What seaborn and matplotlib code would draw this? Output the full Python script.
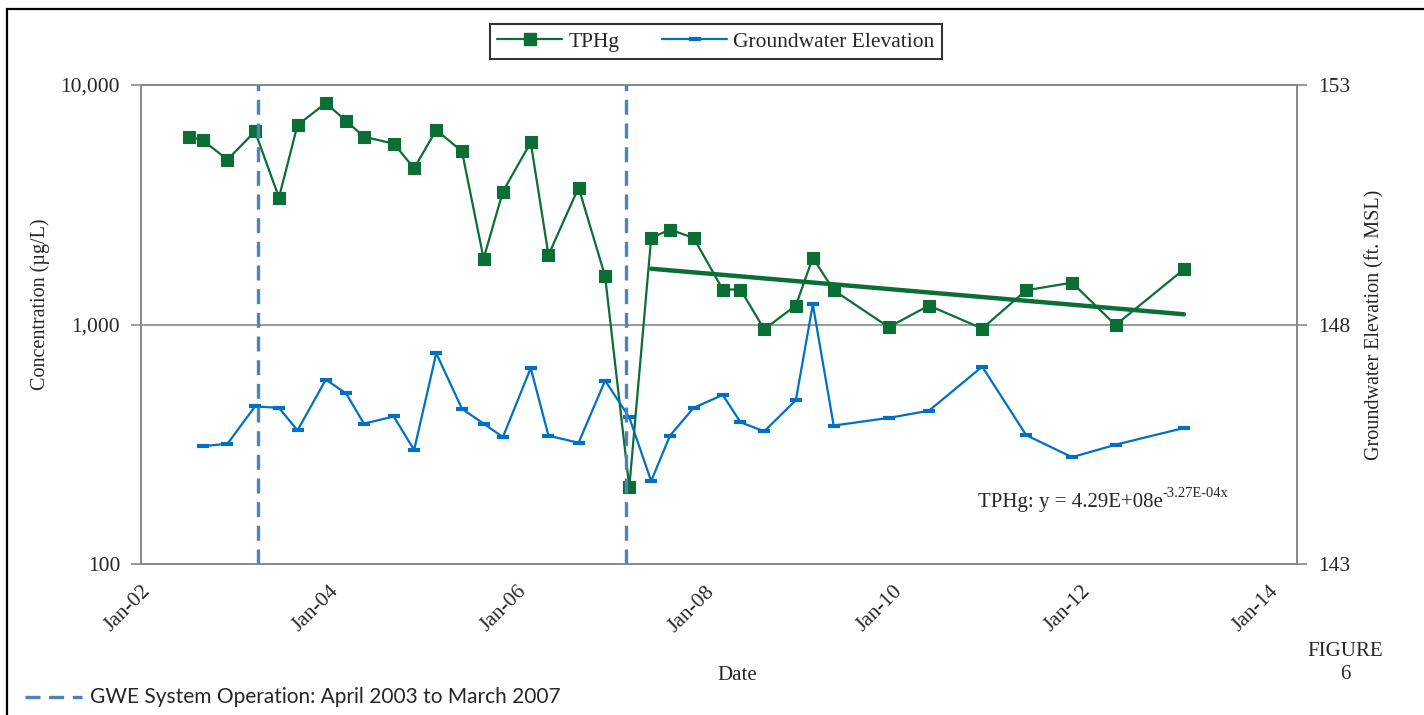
import numpy as np
import pandas as pd
import matplotlib
matplotlib.use("Agg")
import matplotlib.pyplot as plt
import matplotlib.dates as mdates
import matplotlib.ticker as mticker
from matplotlib.lines import Line2D
from matplotlib.patches import Rectangle
import seaborn as sns

# sample dates
dates = ["2002-07-08", "2002-08-28", "2002-12-03", "2003-03-20", "2003-06-21",
         "2003-09-01", "2003-12-20", "2004-03-08", "2004-05-16", "2004-09-09",
         "2004-11-27", "2005-02-21", "2005-06-01", "2005-08-24", "2005-11-07",
         "2006-02-23", "2006-05-03", "2006-08-28", "2006-12-09", "2007-03-13",
         "2007-06-06", "2007-08-18", "2007-11-18", "2008-03-10", "2008-05-18",
         "2008-08-18", "2008-12-19", "2009-02-23", "2009-05-15", "2009-12-15",
         "2010-05-20", "2010-12-13", "2011-06-02", "2011-11-27", "2012-05-14",
         "2013-02-04"]

# TPHg concentration (ug/L)
tphg = [6080, 5890, 4880, 6400, 3390, 6800, 8400, 7080, 6080, 5690,
        4490, 6490, 5280, 1885, 3590, 5760, 1950, 3730, 1590, 209,
        2300, 2490, 2300, 1400, 1400, 955, 1200, 1900, 1390, 975,
        1200, 962, 1390, 1495, 995, 1700]

# groundwater elevation (ft MSL), no reading on the first date
gwe = [np.nan, 145.46, 145.51, 146.29, 146.26, 145.79, 146.85, 146.56, 145.93,
       146.08, 145.38, 147.40, 146.24, 145.93, 145.65, 147.09, 145.68, 145.53,
       146.83, 146.06, 144.73, 145.68, 146.26, 146.53, 145.96, 145.77, 146.42,
       148.42, 145.89, 146.05, 146.20, 147.12, 145.69, 145.23, 145.49, 145.84]

gwe_start, gwe_end = "2003-04-01", "2007-03-01"
trend_from = "2007-06-01"

df = pd.DataFrame({"date": pd.to_datetime(dates), "tphg": tphg, "gwe": gwe})
gw = df.dropna(subset=["gwe"])

green = "#0B6E35"
blue = "#0070C0"
dash_blue = "#4F81BD"
grey = "#898989"
serif = "Liberation Serif"

sns.set_style("white")
plt.rcParams["font.family"] = serif

fig = plt.figure(figsize=(14.24, 7.15), dpi=100)
ax = fig.add_axes([141 / 1424, 1 - 564 / 715, (1297 - 141) / 1424, (564 - 85) / 715])
ax2 = ax.twinx()

sns.lineplot(data=df, x="date", y="tphg", ax=ax, color=green, linewidth=1.6,
             marker="s", markersize=9, markeredgecolor=green, markeredgewidth=0.8,
             estimator=None, legend=False, zorder=3)
sns.lineplot(data=gw, x="date", y="gwe", ax=ax2, color=blue, linewidth=1.6,
             marker="_", markersize=8, markeredgecolor=blue, markeredgewidth=3,
             estimator=None, legend=False)

# exponential trend on the post-operation samples
tr = df[df["date"] >= pd.Timestamp(trend_from)]
xn = mdates.date2num(tr["date"])
k, b = np.polyfit(xn, np.log(tr["tphg"]), 1)
ax.plot(tr["date"].iloc[[0, -1]], np.exp(b + k * xn[[0, -1]]), color=green,
        linewidth=3.2, zorder=4, solid_capstyle="round")

for d in (gwe_start, gwe_end):
    ax2.axvline(pd.Timestamp(d), color=dash_blue, linewidth=2.4,
                dashes=(4.5, 2.6), zorder=5)

ax.set_yscale("log")
ax.set_ylim(100, 10000)
ax.yaxis.set_major_locator(mticker.FixedLocator([100, 1000, 10000]))
ax.yaxis.set_minor_locator(mticker.NullLocator())
ax.yaxis.set_major_formatter(mticker.FuncFormatter(lambda v, p: f"{v:,.0f}"))
ax.yaxis.grid(True, color=grey, linewidth=1.2)
ax2.set_ylim(143, 153)
ax2.set_yticks([143, 148, 153])

ax.set_xlim(pd.Timestamp("2002-01-01"), pd.Timestamp("2014-04-19"))
ax.xaxis.set_major_locator(mdates.YearLocator(2, month=1, day=1))
ax.xaxis.set_major_formatter(mdates.DateFormatter("%b-%y"))
for lbl in ax.get_xticklabels():
    lbl.set_rotation(45)
    lbl.set_ha("right")
    lbl.set_rotation_mode("anchor")

for a in (ax, ax2):
    a.set_xlabel("")
    a.set_ylabel("")
    for s in a.spines.values():
        s.set_color(grey)
        s.set_linewidth(1.2)
    a.tick_params(length=7, width=1.2, color=grey, labelsize=15.5, pad=8)
ax.tick_params(axis="x", pad=6)

fig.text(40 / 1424, 1 - 304 / 715, "Concentration (µg/L)", rotation=90,
         ha="center", va="center", fontsize=14.5)
fig.text(1375 / 1424, 1 - 325 / 715, "Groundwater Elevation (ft. MSL)", rotation=90,
         ha="center", va="center", fontsize=14.5)
fig.text(737 / 1424, 1 - 676 / 715, "Date", ha="center", va="center", fontsize=15)
fig.text(1345 / 1424, 1 - 663 / 715, "FIGURE\n6", ha="center", va="center",
         fontsize=15, linespacing=1.25)

t = ax.text(0.724, 0.128, "TPHg: y = 4.29E+08e", transform=ax.transAxes,
            ha="left", va="center", fontsize=15)
ax.annotate("-3.27E-04x", xy=(1, 0.62), xycoords=t, ha="left", va="bottom",
            fontsize=10.5)

handles = [
    Line2D([], [], color=green, linewidth=1.6, marker="s", markersize=9),
    Line2D([], [], color=blue, linewidth=1.6, marker="_", markersize=8,
           markeredgewidth=3),
]
leg = fig.legend(handles, ["TPHg", "Groundwater Elevation"], loc="center",
                 bbox_to_anchor=(716 / 1424, 1 - 41.5 / 715), ncol=2,
                 fontsize=15.5, frameon=True, fancybox=False, edgecolor="black",
                 handlelength=3, columnspacing=2.0, borderpad=0.35,
                 handletextpad=0.3)
leg.get_frame().set_linewidth(1.5)

# bottom note for the dashed lines
fig.add_artist(Line2D([25 / 1424, 82 / 1424], [1 - 697 / 715] * 2, color=dash_blue,
                      linewidth=2.4, dashes=(4.5, 2.6)))
fig.text(90 / 1424, 1 - 697 / 715, "GWE System Operation: April 2003 to March 2007",
         ha="left", va="center", fontsize=15, family=["Lato", "DejaVu Sans"])

fig.add_artist(Rectangle((7 / 1424, -0.1), 1.1, 1 - 9 / 715 + 0.1, fill=False,
                         edgecolor="black", linewidth=1.6, transform=fig.transFigure))

fig.savefig("out.png", dpi=100)
